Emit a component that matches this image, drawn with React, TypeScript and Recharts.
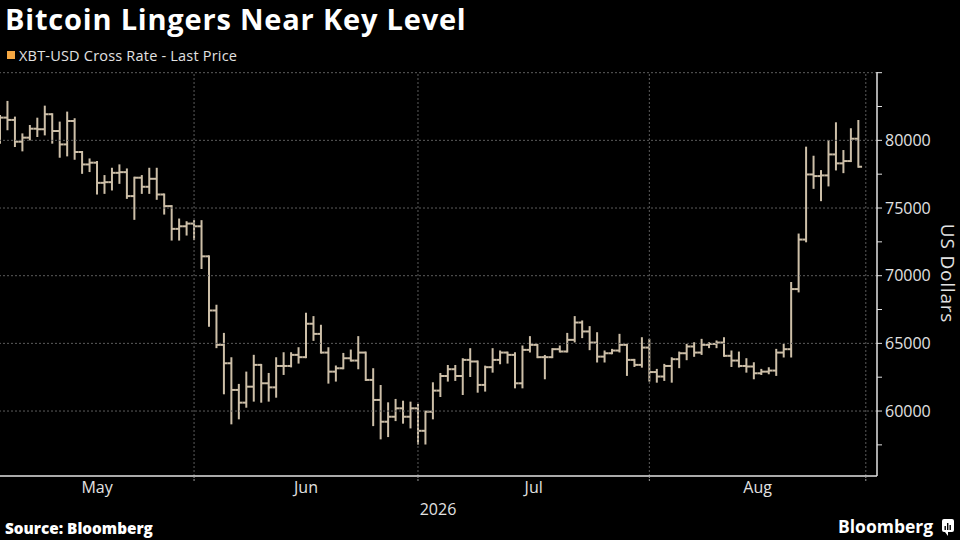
import React from 'react';
import { ComposedChart, Bar, XAxis, YAxis, ReferenceLine } from 'recharts';

// daily OHLC, index 0 = May 6
const opens = [
  80200, 81680, 81510, 79900, 80200, 80860, 80820, 81930, 80690, 79700,
  81430, 79140, 78220, 78350, 76860, 76910, 77600, 77650, 75880, 77240,
  76570, 77160, 76000, 75140, 73460, 73650, 73850, 73650, 71430, 67430,
  64890, 63530, 61560, 60620, 61800, 63410, 62050, 61750, 63330, 63330,
  64150, 63980, 66450, 65700, 64320, 62910, 63160, 63900, 63730, 64320,
  62300, 60820, 59210, 59580, 60200, 59580, 60200, 58540, 59950, 61510,
  62590, 63090, 62590, 63780, 63660, 61930, 63240, 63780, 64320, 64150,
  62050, 64520, 64890, 63980, 63980, 64570, 64400, 65260, 66540, 65880,
  65060, 64020, 64270, 64470, 64890, 63780, 63410, 64690, 62880, 62550,
  63330, 63830, 64270, 64770, 64320, 64890, 64960, 65060, 64080, 63730,
  63330, 63290, 62790, 62910, 62990, 64320, 64570, 69010, 72670, 77480,
  77360, 77410, 78960, 78300, 78470, 80120,
];
const highs = [
  81800, 82840, 81680, 80440, 81060, 81600, 82490, 81930, 81310, 82050,
  81560, 79140, 78590, 78400, 77360, 77900, 78150, 77850, 77240, 77360,
  77900, 77900, 76000, 75140, 74150, 73950, 74030, 74030, 71430, 67780,
  65700, 63900, 61930, 62840, 64080, 63410, 62740, 63900, 64270, 64270,
  64640, 67190, 66940, 66300, 64640, 63290, 64220, 64470, 65460, 64320,
  63090, 61850, 60570, 60820, 60690, 60620, 60450, 59950, 62050, 62740,
  63330, 63330, 63830, 64570, 63660, 63280, 64570, 64400, 64320, 64270,
  64770, 65460, 64890, 64070, 64570, 64770, 65700, 66940, 66620, 66200,
  65750, 64400, 64520, 65630, 64890, 63780, 65380, 65260, 63040, 63410,
  63900, 64320, 64890, 65010, 65260, 65010, 65140, 65380, 64400, 64320,
  63830, 63530, 63040, 63160, 64520, 64890, 69460, 73040, 79460, 78790,
  77730, 79950, 81260, 79210, 80820, 81430,
];
const lows = [
  79830, 80820, 79580, 79260, 80070, 80320, 80440, 79830, 78790, 78890,
  78640, 77600, 77730, 76070, 76120, 76370, 76860, 75750, 74200, 76120,
  76120, 75680, 74590, 72670, 72670, 73040, 72700, 70570, 66300, 64720,
  61310, 59090, 59460, 60320, 60770, 60690, 60770, 61060, 62740, 63300,
  63580, 63980, 65260, 64320, 62100, 62250, 63160, 63730, 63160, 62300,
  58960, 57980, 58150, 59330, 59140, 58790, 57600, 57600, 59460, 61110,
  62250, 62300, 61260, 62590, 61430, 61510, 62910, 63530, 63580, 61750,
  61750, 64400, 63980, 62420, 63980, 64400, 64400, 65140, 65460, 64570,
  63660, 63660, 64270, 64400, 62670, 63330, 63280, 62250, 62170, 62300,
  62170, 63240, 63830, 64080, 64220, 64720, 64720, 64080, 63330, 63290,
  62910, 62420, 62740, 62790, 62670, 64030, 64030, 68840, 72540, 76490,
  75580, 76670, 77850, 77650, 78470, 78050,
];
const closes = [
  81680, 81510, 79900, 80200, 80860, 80820, 81930, 80690, 79700, 81430,
  79140, 78220, 78350, 76860, 76910, 77600, 77650, 75880, 77240, 76570,
  77160, 76000, 75140, 73460, 73650, 73850, 73650, 71430, 67430, 64890,
  63530, 61560, 60620, 61800, 63410, 62050, 61750, 63330, 63330, 64150,
  63980, 66450, 65700, 64320, 62910, 63160, 63900, 63730, 64320, 62300,
  60820, 59210, 59580, 60200, 59580, 60200, 58540, 59950, 61510, 62590,
  63090, 62590, 63780, 63660, 61930, 63240, 63780, 64320, 64150, 62050,
  64520, 64890, 63980, 63980, 64570, 64400, 65260, 66540, 65880, 65060,
  64020, 64270, 64470, 64890, 63780, 63410, 64690, 62880, 62550, 63330,
  63830, 64270, 64770, 64320, 64890, 64960, 65060, 64080, 63730, 63330,
  63290, 62790, 62910, 62990, 64320, 64570, 69010, 72670, 77480, 77360,
  77410, 78960, 78300, 78470, 80120, 78050,
];

// x axis: day index of month boundaries and label centres
const monthStarts = [26, 56, 87, 116];
const monthMids = [13, 41, 71.5, 101.5];
const monthLabels = ['May', 'Jun', 'Jul', 'Aug'];
const yearLabel = '2026';

const yMajor = [60000, 65000, 70000, 75000, 80000];
const yTicks = [57500, 60000, 62500, 65000, 67500, 70000, 72500, 75000, 77500, 80000, 82500, 85000];

const data = closes.map((c, i) => ({
  i,
  open: opens[i],
  high: highs[i],
  low: lows[i],
  close: c,
}));

const BAR = '#cdbfa8';
const TEXT = '#e2e2e2';
const GRID = '#5c5c5c';
const FONT = '"Open Sans", "Noto Sans", sans-serif';

function OhlcShape(props: any) {
  const { x, y, width, height, payload } = props;
  if (!payload) return null;
  const top = Math.min(y, y + height);
  const bottom = Math.max(y, y + height);
  const span = payload.high - payload.low;
  const toY = (v: number) => (span === 0 ? top : top + ((payload.high - v) / span) * (bottom - top));
  const cx = x + width / 2;
  const yo = toY(payload.open);
  const yc = toY(payload.close);
  return (
    <g stroke={BAR} strokeWidth={2}>
      <line x1={cx} x2={cx} y1={top - 1} y2={bottom + 1} />
      <line x1={cx - width / 2} x2={cx} y1={yo} y2={yo} />
      <line x1={cx} x2={cx + width / 2} y1={yc} y2={yc} />
    </g>
  );
}

function XTick(props: any) {
  const { x, y, payload } = props;
  const k = monthMids.indexOf(payload.value);
  if (k >= 0) {
    return (
      <text x={x} y={y + 17} textAnchor="middle" fill={TEXT} fontSize={16} fontFamily={FONT}>
        {monthLabels[k]}
      </text>
    );
  }
  return <line x1={x} x2={x} y1={y} y2={y + 5} stroke="#999" strokeDasharray="2 1" />;
}

function YTick(props: any) {
  const { x, y, payload } = props;
  if (!yMajor.includes(payload.value)) return <g />;
  return (
    <text x={x} y={y} dy="0.36em" textAnchor="start" fill={TEXT} fontSize={16} fontFamily={FONT}>
      {payload.value}
    </text>
  );
}

export default function App() {
  return (
    <div style={{ position: 'relative', width: 960, height: 540, background: '#000', overflow: 'hidden' }}>
      <style>{'body{margin:0;background:#000}'}</style>
      <ComposedChart
        width={960}
        height={540}
        data={data}
        margin={{ top: 72, right: 0, left: 0, bottom: 0 }}
      >
        {yMajor.concat([85000]).map((v) => (
          <ReferenceLine key={'h' + v} y={v} stroke={GRID} strokeDasharray="2 2" />
        ))}
        {monthStarts.map((v) => (
          <ReferenceLine key={'v' + v} x={v} stroke={GRID} strokeDasharray="2 2" />
        ))}
        <XAxis
          dataKey="i"
          type="number"
          domain={[0, 117.5]}
          ticks={[...monthMids, ...monthStarts].sort((a, b) => a - b)}
          interval={0}
          tickLine={false}
          tickSize={0}
          tickMargin={0}
          tick={<XTick />}
          axisLine={{ stroke: TEXT, strokeWidth: 1.5 }}
          height={64}
          allowDataOverflow
        />
        <YAxis
          orientation="right"
          domain={[55200, 85050]}
          ticks={yTicks}
          interval={0}
          tickSize={5}
          tickMargin={3}
          tickLine={{ stroke: TEXT }}
          axisLine={{ stroke: TEXT, strokeWidth: 1.5 }}
          tick={<YTick />}
          width={83}
          allowDataOverflow
        />
        <Bar
          dataKey={(d: any) => [d.low, d.high]}
          barSize={7.46}
          shape={<OhlcShape />}
          isAnimationActive={false}
        />
      </ComposedChart>

      <svg
        width={960}
        height={540}
        style={{ position: 'absolute', left: 0, top: 0, pointerEvents: 'none' }}
      >
        <text x={5} y={30} fill="#fff" fontSize={29} fontWeight={700} letterSpacing={0.8} fontFamily={FONT}>
          Bitcoin Lingers Near Key Level
        </text>
        <rect x={7} y={51} width={8} height={8} fill="#f5a742" />
        <text x={19} y={60.5} fill={TEXT} fontSize={14.5} letterSpacing={0.2} fontFamily={FONT}>
          XBT-USD Cross Rate - Last Price
        </text>
        <text x={438} y={515} fill={TEXT} fontSize={16} textAnchor="middle" fontFamily={FONT}>
          {yearLabel}
        </text>
        <text
          x={941}
          y={273.5}
          fill={TEXT}
          fontSize={19}
          letterSpacing={0.8}
          textAnchor="middle"
          fontFamily={FONT}
          transform="rotate(90 941 273.5)"
        >
          US Dollars
        </text>
        <text x={5} y={534} fill="#fff" fontSize={15.3} fontWeight={800} fontFamily={FONT}>
          Source: Bloomberg
        </text>
        <text x={838} y={533} fill="#fff" fontSize={17.5} fontWeight={700} fontFamily={FONT}>
          Bloomberg
        </text>
        <rect x={942} y={519} width={12} height={13} rx={2} fill="#fff" />
        <path d="M945 532 L948 536 L948 532 Z" fill="#fff" />
        <rect x={944.5} y={526} width={1.4} height={4} fill="#000" />
        <rect x={947} y={523} width={1.4} height={7} fill="#000" />
        <rect x={949.5} y={525} width={1.4} height={5} fill="#000" />
      </svg>
    </div>
  );
}
